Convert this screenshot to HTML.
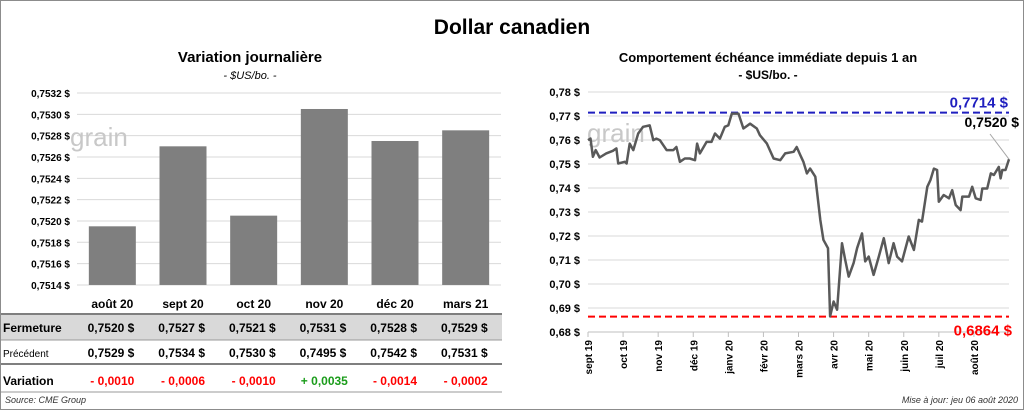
<!DOCTYPE html>
<html><head><meta charset="utf-8"><style>
body{margin:0;width:1024px;height:410px;background:#fff;font-family:"Liberation Sans",sans-serif;overflow:hidden}
svg text{font-family:"Liberation Sans",sans-serif}
</style></head><body>
<svg id="s" width="1024" height="410">
<rect x="0.5" y="0.5" width="1023" height="409" fill="#fff" stroke="#8c8c8c"/>
<text x="512" y="34" text-anchor="middle" font-size="21" font-weight="bold">Dollar canadien</text>
<text x="250" y="62" text-anchor="middle" font-size="15" font-weight="bold">Variation  journalière</text>
<text x="250" y="79" text-anchor="middle" font-size="11" font-style="italic">- $US/bo. -</text>
<text x="768" y="62" text-anchor="middle" font-size="13" font-weight="bold">Comportement échéance immédiate depuis 1 an</text>
<text x="768" y="79" text-anchor="middle" font-size="12" font-weight="bold">- $US/bo. -</text>
<g id="left"></g>
<g id="right"></g>
<g id="table"></g>
<text x="5" y="403" font-size="9" font-style="italic" fill="#333">Source: CME Group</text>
<text x="1018" y="403" text-anchor="end" font-size="9" font-style="italic" fill="#333">Mise à jour: jeu 06 août 2020</text>
</svg>
<script>
const barCats=["août 20","sept 20","oct 20","nov 20","déc 20","mars 21"];
const barVals=[0.75195,0.7527,0.75205,0.75305,0.75275,0.75285];
const barTicks=[0.7514,0.7516,0.7518,0.7520,0.7522,0.7524,0.7526,0.7528,0.7530,0.7532];
const closeVals=["0,7520","0,7527","0,7521","0,7531","0,7528","0,7529"];
const prevVals=["0,7529","0,7534","0,7530","0,7495","0,7542","0,7531"];
const varVals=["- 0,0010","- 0,0006","- 0,0010","+ 0,0035","- 0,0014","- 0,0002"];
const lineT=[0,.07,.14,.22,.33,.52,.71,.81,.86,1.05,1.10,1.19,1.29,1.43,1.57,1.76,1.86,1.95,2.05,2.24,2.43,2.52,2.62,2.76,2.90,3.05,3.11,3.19,3.38,3.52,3.62,3.76,3.90,4.00,4.10,4.29,4.43,4.62,4.81,4.90,5.10,5.29,5.48,5.62,5.86,5.95,6.05,6.14,6.24,6.33,6.48,6.62,6.71,6.84,6.90,7.00,7.10,7.24,7.33,7.43,7.57,7.67,7.81,7.90,8.00,8.14,8.29,8.43,8.57,8.71,8.81,8.95,9.14,9.29,9.43,9.52,9.67,9.76,9.86,9.95,10.00,10.14,10.29,10.38,10.48,10.62,10.67,10.86,10.95,11.05,11.19,11.24,11.38,11.48,11.57,11.71,11.76,11.81,11.90,12.00];
const lineV=[.7599,.7606,.7530,.7558,.7527,.7544,.7555,.7565,.7502,.7509,.7502,.7585,.7558,.7627,.7655,.7661,.7599,.7606,.7599,.7558,.7558,.7571,.7509,.7523,.7523,.7516,.7585,.7544,.7592,.7592,.7627,.7606,.7655,.7661,.7710,.7710,.7648,.7668,.7648,.7620,.7585,.7523,.7516,.7544,.7551,.7571,.7537,.7509,.7461,.7481,.7447,.7267,.7184,.7149,.6865,.6927,.6893,.7170,.7101,.7031,.7087,.7149,.7211,.7094,.7114,.7038,.7114,.7191,.7087,.7170,.7114,.7094,.7198,.7142,.7267,.7260,.7405,.7433,.7481,.7475,.7343,.7371,.7357,.7391,.7329,.7308,.7364,.7364,.7405,.7357,.7350,.7398,.7398,.7461,.7454,.7488,.7440,.7475,.7475,.7520];
const lineTicks=[0.68,0.69,0.70,0.71,0.72,0.73,0.74,0.75,0.76,0.77,0.78];
const monthLabels=["sept 19","oct 19","nov 19","déc 19","janv 20","févr 20","mars 20","avr 20","mai 20","juin 20","juil 20","août 20"];
const maxVal=0.7714, minVal=0.6864, lastVal=0.7520;
const NS="http://www.w3.org/2000/svg";
function mk(p,tag,a,txt){const e=document.createElementNS(NS,tag);for(const k in a)e.setAttribute(k,a[k]);if(txt!==undefined)e.textContent=txt;p.appendChild(e);return e;}
const fmt=(v,d)=>v.toFixed(d).replace('.',',');
// bar chart
const L=document.getElementById('left');
const bx0=77,bx1=501,by=v=>93+(0.7532-v)/0.0002*21.33;
const band=(bx1-bx0)/barCats.length;
barTicks.forEach(t=>{
 const g=mk(L,'line',{x1:bx0,x2:bx1,y1:by(t),y2:by(t),stroke:'#d9d9d9'});
 
 
 const tx=mk(L,'text',{x:70,y:by(t)+4,'text-anchor':'end','font-size':10,'font-weight':'bold'},fmt(t,4)+' $');
 
 
});
mk(L,'text',{x:70,y:146,'font-size':26,fill:'#c8c8c8'},'grain');
barVals.forEach((v,i)=>{
 const cx=bx0+band*(i+0.5);
 const r=mk(L,'rect',{x:cx-23.5,y:by(v),width:47,height:by(0.7514)-by(v),fill:'#7f7f7f'});
 
 
 const t=mk(L,'text',{x:cx,y:308,'text-anchor':'middle','font-size':12,'font-weight':'bold'},barCats[i]);
 
 
});
// table
const T=document.getElementById('table');
mk(T,'rect',{x:1,y:315,width:501,height:25,fill:'#d9d9d9'});
[[314,'#7f7f7f',2],[340,'#999',1],[364,'#7f7f7f',2],[392,'#999',1]].forEach(l=>{mk(T,'line',{x1:1,x2:502,y1:l[0],y2:l[0],stroke:l[1],'stroke-width':l[2]});});
const rows=[["Fermeture",closeVals,332,'#000',true,' $'],["Précédent",prevVals,357,'#000',false,' $'],["Variation",varVals,385,null,true,'']];
rows.forEach(r=>{
 const h=mk(T,'text',{x:3,y:r[2],'font-size':r[0]==='Précédent'?10:12,'font-weight':r[4]?'bold':'normal'},r[0]);
 
 
 r[1].forEach((v,i)=>{
  const cx=bx0+band*(i+0.5);
  const col=r[3]||(v[0]==='+'?'#1a9c1a':'#ff0000');
  const t=mk(T,'text',{x:cx+(r[5]?22:0),y:r[2],'text-anchor':r[5]?'end':'middle','font-size':12,'font-weight':'bold',fill:col},v+(r[5]?'  $':''));
  t.setAttribute('xml:space','preserve');
  
  
 });
});
// line chart
const R=document.getElementById('right');
const lx0=588,lx1=1009,lx=t=>lx0+t*(lx1-lx0)/12,ly=v=>92+(0.78-v)/0.01*24;
lineTicks.forEach(t=>{
 const g=mk(R,'line',{x1:lx0,x2:lx1,y1:ly(t),y2:ly(t),stroke:'#d9d9d9'});
 
 
 const tx=mk(R,'text',{x:580,y:ly(t)+4,'text-anchor':'end','font-size':11,'font-weight':'bold'},fmt(t,2)+' $');
 
 
});
mk(R,'line',{x1:lx0,x2:lx1,y1:ly(0.68),y2:ly(0.68),stroke:'#bfbfbf'});
mk(R,'text',{x:587,y:142,'font-size':26,fill:'#c8c8c8'},'grain');
monthLabels.forEach((m,i)=>{
 const x=lx(i);
 mk(R,'line',{x1:x,x2:x,y1:ly(0.68),y2:ly(0.68)+5,stroke:'#bfbfbf'});
 const t=mk(R,'text',{transform:`translate(${x+4},${ly(0.68)+8}) rotate(-90)`,'text-anchor':'end','font-size':10,'font-weight':'bold'},m);
 
 
});
const hi=mk(R,'line',{x1:lx0,x2:lx1,y1:ly(maxVal),y2:ly(maxVal),stroke:'#1f1fbf','stroke-width':2,'stroke-dasharray':'7,4'});


const lo=mk(R,'line',{x1:lx0,x2:lx1,y1:ly(minVal),y2:ly(minVal),stroke:'#ff0000','stroke-width':2,'stroke-dasharray':'7,4'});


const hl=mk(R,'text',{x:1008,y:ly(maxVal)-5,'text-anchor':'end','font-size':15,'font-weight':'bold',fill:'#1f1fbf'},fmt(maxVal,4)+' $');


const ll=mk(R,'text',{x:1012,y:ly(minVal)+19,'text-anchor':'end','font-size':15,'font-weight':'bold',fill:'#ff0000'},fmt(minVal,4)+' $');


const cl=mk(R,'text',{x:1019,y:127,'text-anchor':'end','font-size':14,'font-weight':'bold'},fmt(lastVal,4)+' $');


mk(R,'line',{x1:990,y1:134,x2:lx(12),y2:ly(lastVal),stroke:'#a6a6a6'});
const pts=lineT.map((t,i)=>lx(t).toFixed(1)+','+ly(lineV[i]).toFixed(1)).join(' ');
const pl=mk(R,'polyline',{points:pts,fill:'none',stroke:'#595959','stroke-width':2.5,'stroke-linejoin':'round'});


</script>
</body></html>
